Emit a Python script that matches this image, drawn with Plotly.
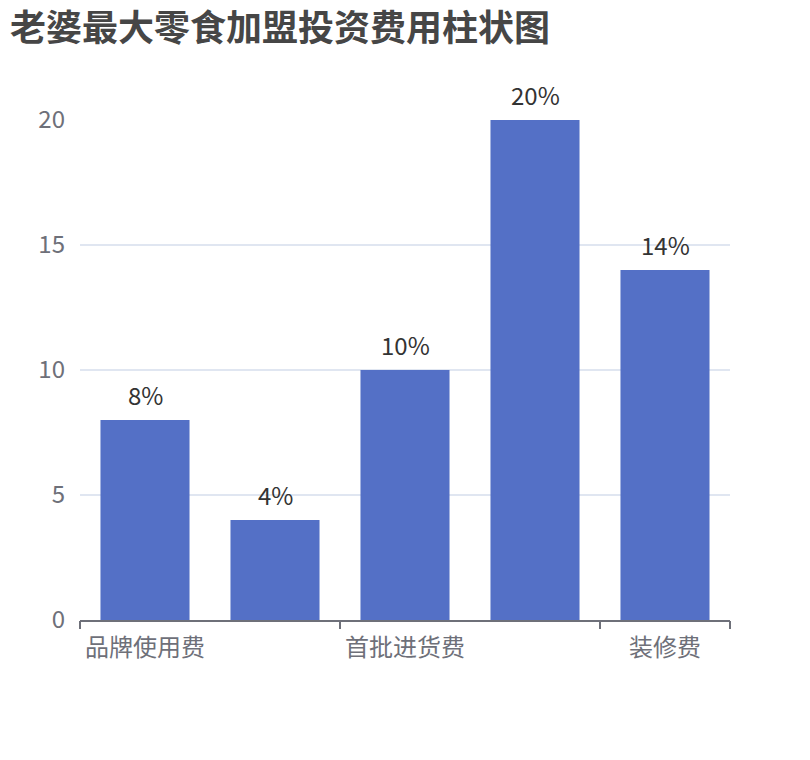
import plotly.graph_objects as go

# 数据
categories = ["品牌使用费", "店面租金", "首批进货费", "人员工资", "装修费"]
values = [8, 4, 10, 20, 14]
y_ticks = [0, 5, 10, 15, 20]

font_cn = "Noto Sans CJK SC, Microsoft YaHei, sans-serif"
axis_grey = "#6E7079"

# page body has an 8px margin, so the figure is sized/placed to compensate
W, H = 802, 752

n = len(categories)
# only every other label fits, like echarts auto interval
shown_labels = categories[::2]
boundary_ticks = [i - 0.5 for i in range(0, n + 1, 2)] + [n - 0.5]

bars = go.Bar(
    x=categories,
    y=values,
    marker=dict(color="#5470C6", line=dict(width=0)),
    showlegend=False,
)

# invisible helper trace so the overlay axis exists
helper = go.Scatter(x=[-0.5, n - 0.5], y=[0, 0], xaxis="x2", mode="none",
                    showlegend=False, hoverinfo="skip")

fig = go.Figure(data=[bars, helper])

# value labels above the bars
for cat, val in zip(categories, values):
    fig.add_annotation(
        x=cat, y=val, text=f"{val}%", showarrow=False,
        yanchor="middle", yshift=26,
        font=dict(size=24, color="#333333", family=font_cn),
    )

fig.update_layout(
    width=W,
    height=H,
    margin=dict(l=72, r=80, t=112, b=140),
    paper_bgcolor="white",
    plot_bgcolor="white",
    bargap=0.315,
    font=dict(family=font_cn, color=axis_grey),
    title=dict(
        text="<b>老婆最大零食加盟投资费用柱状图</b>",
        x=2 / W, xref="container", xanchor="left",
        y=1 - 20 / H, yref="container", yanchor="middle",
        font=dict(size=36, color="#464646", family=font_cn),
    ),
    xaxis=dict(
        type="category",
        categoryorder="array",
        categoryarray=categories,
        tickmode="array",
        tickvals=shown_labels,
        ticks="",
        showline=True,
        linecolor=axis_grey,
        linewidth=1.5,
        showgrid=False,
        tickfont=dict(size=24, color=axis_grey),
        ticklabelstandoff=5,
        range=[-0.5, n - 0.5],
        fixedrange=True,
    ),
    xaxis2=dict(
        overlaying="x",
        side="bottom",
        range=[-0.5, n - 0.5],
        tickmode="array",
        tickvals=boundary_ticks,
        showticklabels=False,
        ticks="outside",
        ticklen=8,
        tickwidth=1.5,
        tickcolor=axis_grey,
        showgrid=False,
        showline=False,
        zeroline=False,
    ),
    yaxis=dict(
        range=[0, 20],
        tickmode="array",
        tickvals=y_ticks,
        ticks="",
        showline=False,
        gridcolor="#E0E6F1",
        gridwidth=1.5,
        zeroline=False,
        tickfont=dict(size=24, color=axis_grey),
        ticklabelstandoff=14,
    ),
)

fig.write_html("out.html")
